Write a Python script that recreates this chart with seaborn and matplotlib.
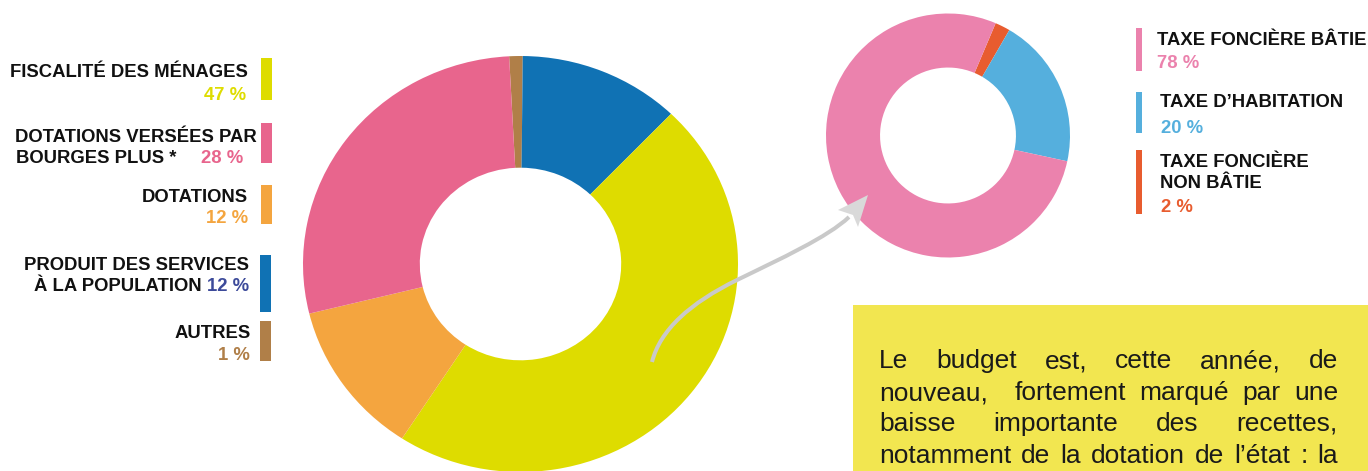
import matplotlib
matplotlib.use('Agg')
import matplotlib.pyplot as plt
import matplotlib.patches as mpatches
from matplotlib.path import Path
import seaborn as sns

# ---------------- data ----------------
main_labels = ['AUTRES', 'PRODUIT DES SERVICES À LA POPULATION', 'FISCALITÉ DES MÉNAGES',
               'DOTATIONS', 'DOTATIONS VERSÉES PAR BOURGES PLUS *']
main_values = [1, 12, 47, 12, 28]
main_colors = ['#B07F48', '#1072B4', '#DEDC00', '#F4A53F', '#E8658D']

tax_labels = ['TAXE FONCIÈRE NON BÂTIE', 'TAXE D’HABITATION', 'TAXE FONCIÈRE BÂTIE']
tax_values = [2, 20, 78]
tax_colors = ['#E85C2F', '#55AFDD', '#EB82AD']

body_lines = ['Le budget est, cette année, de',
              'nouveau,  fortement marqué par une',
              'baisse importante des recettes,',
              'notamment de la dotation de l’état : la']

# ---------------- style ----------------
sns.set_theme(style='white')
plt.rcParams['font.family'] = ['Liberation Sans', 'DejaVu Sans']

W, H = 1368, 471
fig = plt.figure(figsize=(W / 100, H / 100), dpi=100)
fig.patch.set_facecolor('white')

def px_axes(left, top, width, height):
    return fig.add_axes([left / W, (H - top - height) / H, width / W, height / H])

# main donut (slightly wider than tall, as in the reference)
ax_main = px_axes(303, 56, 435, 416)
ax_main.pie(main_values, colors=main_colors, startangle=93, counterclock=False,
            radius=1, wedgeprops=dict(width=0.537, linewidth=0))
ax_main.set_aspect('auto')
ax_main.set_xlim(-1, 1)
ax_main.set_ylim(-1, 1)
ax_main.axis('off')

# small donut
ax_tax = px_axes(826, 13.5, 244, 244)
ax_tax.pie(tax_values, colors=tax_colors, startangle=67, counterclock=False,
           radius=1, wedgeprops=dict(width=0.443, linewidth=0))
ax_tax.set_aspect('auto')
ax_tax.set_xlim(-1, 1)
ax_tax.set_ylim(-1, 1)
ax_tax.axis('off')

# overlay in pixel coordinates
ax = fig.add_axes([0, 0, 1, 1], zorder=5)
ax.set_xlim(0, W)
ax.set_ylim(H, 0)
ax.axis('off')
ax.patch.set_alpha(0)

BLACK = '#111111'
fs = 13.3
bold = dict(fontsize=fs, fontweight='bold', va='baseline')

# ---- left legend ----
v = dict(zip(main_labels, main_values))
c = dict(zip(main_labels, main_colors))

def bar(x0, x1, y0, y1, col):
    ax.add_patch(mpatches.Rectangle((x0, y0), x1 - x0, y1 - y0, color=col, lw=0))

k = 'FISCALITÉ DES MÉNAGES'
ax.text(248, 77, k, ha='right', color=BLACK, **bold)
ax.text(246, 100, f'{v[k]} %', ha='right', color=c[k], **bold)
bar(261, 272, 58, 100, c[k])

k = 'DOTATIONS VERSÉES PAR BOURGES PLUS *'
ax.text(257, 142, 'DOTATIONS VERSÉES PAR', ha='right', color=BLACK, **bold)
ax.text(16, 163, 'BOURGES PLUS *', ha='left', color=BLACK, **bold)
ax.text(243, 163, f'{v[k]} %', ha='right', color=c[k], **bold)
bar(261, 272, 123, 163, c[k])

k = 'DOTATIONS'
ax.text(248, 202, k, ha='right', color=BLACK, **bold)
ax.text(248, 223, f'{v[k]} %', ha='right', color=c[k], **bold)
bar(261, 272, 185, 224, c[k])

k = 'PRODUIT DES SERVICES À LA POPULATION'
ax.text(249, 270, 'PRODUIT DES SERVICES', ha='right', color=BLACK, **bold)
ax.text(202, 291, 'À LA POPULATION', ha='right', color=BLACK, **bold)
ax.text(249, 291, f'{v[k]} %', ha='right', color='#3C4A9A', **bold)
bar(260, 271, 255, 312, c[k])

k = 'AUTRES'
ax.text(251, 338, k, ha='right', color=BLACK, **bold)
ax.text(250, 360, f'{v[k]} %', ha='right', color=c[k], **bold)
bar(260, 271, 321, 361, c[k])

# ---- right legend ----
tv = dict(zip(tax_labels, tax_values))
tc = dict(zip(tax_labels, tax_colors))

k = 'TAXE FONCIÈRE BÂTIE'
ax.text(1157, 45, k, ha='left', color=BLACK, **bold)
ax.text(1157, 68, f'{tv[k]} %', ha='left', color=tc[k], **bold)
bar(1136, 1142, 28, 71, tc[k])

k = 'TAXE D’HABITATION'
ax.text(1160, 107, k, ha='left', color=BLACK, **bold)
ax.text(1161, 133, f'{tv[k]} %', ha='left', color=tc[k], **bold)
bar(1136, 1142, 92, 133, tc[k])

k = 'TAXE FONCIÈRE NON BÂTIE'
ax.text(1160, 167, 'TAXE FONCIÈRE', ha='left', color=BLACK, **bold)
ax.text(1160, 188, 'NON BÂTIE', ha='left', color=BLACK, **bold)
ax.text(1161, 212, f'{tv[k]} %', ha='left', color=tc[k], **bold)
bar(1136, 1142, 150, 214, tc[k])

# ---- arrow ----
verts = [(652, 362), (660, 330), (690, 303), (737, 280),
         (780, 259), (828, 237), (849, 217)]
codes = [Path.MOVETO] + [Path.CURVE4] * 6
ax.add_patch(mpatches.PathPatch(Path(verts, codes), fill=False,
                                edgecolor='#C9C9C9', lw=2.9, capstyle='butt'))
ax.add_patch(mpatches.Polygon([(868, 195), (838, 210), (853, 215), (858, 227)],
                              closed=True, color='#D9D9D9', lw=0))

# ---- text box ----
ax.add_patch(mpatches.Rectangle((853, 305), 520, 170, color='#F2E650', lw=0))

fig.canvas.draw()
renderer = fig.canvas.get_renderer()
x_left, x_right = 879, 1338
baselines = [368, 400, 431, 463]
body = dict(fontsize=19, color='#1A1A1A', va='baseline', ha='left')
for line, yb in zip(body_lines, baselines):
    words = line.split(' ')
    objs, widths = [], []
    for w_ in words:
        if w_ == '':
            objs.append(None)
            widths.append(0.0)
        else:
            t = ax.text(0, yb, w_, **body)
            objs.append(t)
            widths.append(t.get_window_extent(renderer).width)
    gap = (x_right - x_left - sum(widths)) / (len(words) - 1)
    x = x_left
    for t, wd in zip(objs, widths):
        if t is not None:
            t.set_x(x)
        x += wd + gap

fig.savefig('out.png', dpi=100, facecolor='white')
